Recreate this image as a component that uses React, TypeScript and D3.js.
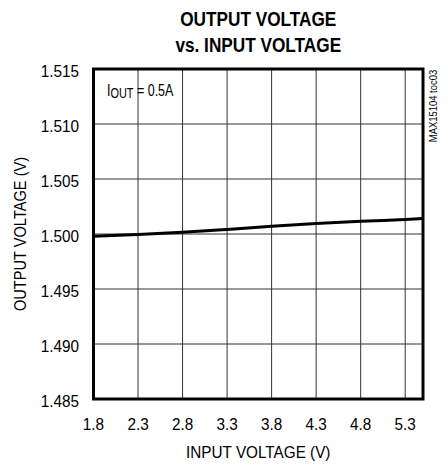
import React from "react";
import * as d3 from "d3";

const inputVoltage = [1.8, 2.3, 2.8, 3.3, 3.8, 4.3, 4.8, 5.3, 5.5];
const outputVoltage = [1.4998, 1.49996, 1.50016, 1.50042, 1.5007, 1.50095, 1.50115, 1.50132, 1.5014];
const xTicks = [1.8, 2.3, 2.8, 3.3, 3.8, 4.3, 4.8, 5.3];
const yTicks = [1.485, 1.49, 1.495, 1.5, 1.505, 1.51, 1.515];
const titleLines = ["OUTPUT VOLTAGE", "vs. INPUT VOLTAGE"];

const W = 448;
const H = 466;
const left = 93.5;
const right = 423;
const top = 69;
const bottom = 399;
const FONT = "'Liberation Sans', Arial, sans-serif";

export default function App() {
  const x = d3.scaleLinear().domain([1.8, 5.5]).range([left, right]);
  const y = d3.scaleLinear().domain([1.485, 1.515]).range([bottom, top]);
  const pts = inputVoltage.map((v, i) => [v, outputVoltage[i]] as [number, number]);
  const line = d3
    .line<[number, number]>()
    .x((d) => x(d[0]))
    .y((d) => y(d[1]))
    .curve(d3.curveMonotoneX);

  return (
    <svg
      width={W}
      height={H}
      style={{ position: "absolute", left: 0, top: 0, background: "#fff" }}
      fontFamily={FONT}
    >
      <rect x={0} y={0} width={W} height={H} fill="#fff" />
      {titleLines.map((t, i) => (
        <text
          key={t}
          transform={`translate(${(left + right) / 2},${26 + i * 26}) scale(0.82,1)`}
          textAnchor="middle"
          fontWeight="bold"
          fontSize={21}
          fill="#000"
        >
          {t}
        </text>
      ))}
      {xTicks.slice(1).map((t) => (
        <line key={"gx" + t} x1={x(t)} x2={x(t)} y1={top} y2={bottom} stroke="#333" strokeWidth={1} />
      ))}
      {yTicks.slice(1, -1).map((t) => (
        <line key={"gy" + t} x1={left} x2={right} y1={y(t)} y2={y(t)} stroke="#333" strokeWidth={1} />
      ))}
      <path d={line(pts) || ""} fill="none" stroke="#000" strokeWidth={3} />
      <rect x={left} y={top} width={right - left} height={bottom - top} fill="none" stroke="#000" strokeWidth={3} />
      {yTicks.map((t) => (
        <text
          key={"yl" + t}
          transform={`translate(79,${y(t) + 2}) scale(0.9,1)`}
          dy="0.35em"
          textAnchor="end"
          fontSize={17}
          fill="#000"
        >
          {d3.format(".3f")(t)}
        </text>
      ))}
      {xTicks.map((t) => (
        <text
          key={"xl" + t}
          transform={`translate(${x(t)},430) scale(0.9,1)`}
          textAnchor="middle"
          fontSize={17}
          fill="#000"
        >
          {d3.format(".1f")(t)}
        </text>
      ))}
      <text
        transform={`translate(${(left + right) / 2},458) scale(0.9,1)`}
        textAnchor="middle"
        fontSize={17}
        fill="#000"
      >
        INPUT VOLTAGE (V)
      </text>
      <text
        transform={`translate(26,${(top + bottom) / 2}) rotate(-90) scale(0.86,1)`}
        textAnchor="middle"
        fontSize={17}
        fill="#000"
      >
        OUTPUT VOLTAGE (V)
      </text>
      <text transform="translate(107,96) scale(0.78,1)" fontSize={16} fill="#000">
        I<tspan fontSize={14} dy={2}>OUT</tspan>
        <tspan dy={-2}> = 0.5A</tspan>
      </text>
      <text
        transform={`translate(437,106) rotate(-90) scale(0.9,1)`}
        textAnchor="middle"
        fontSize={10.5}
        fill="#000"
      >
        MAX15104 toc03
      </text>
    </svg>
  );
}
